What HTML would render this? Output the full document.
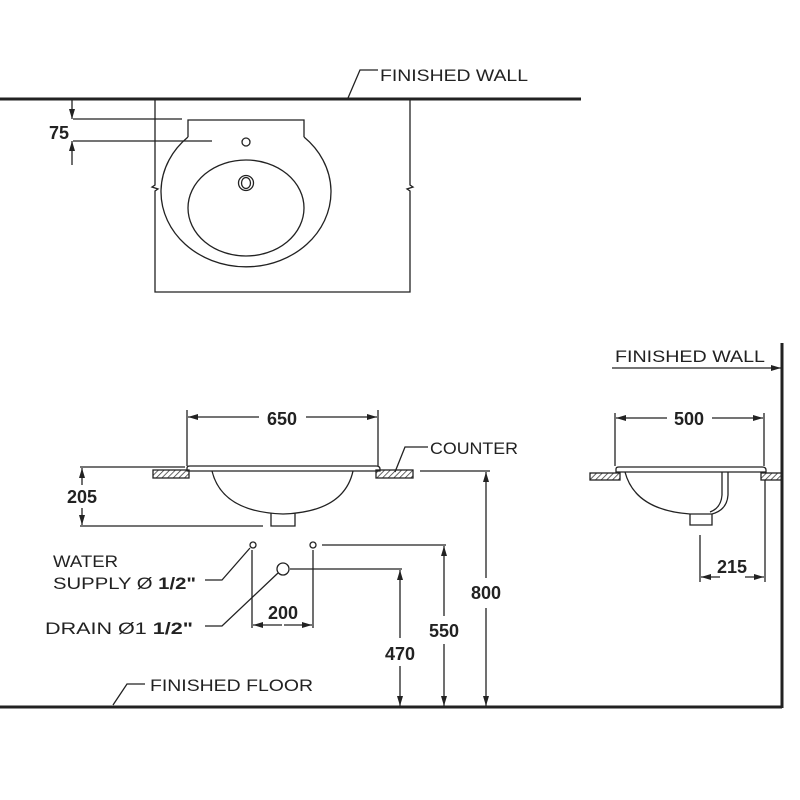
<!DOCTYPE html>
<html><head><style>body{margin:0;background:#fff}svg{display:block}</style></head><body>
<svg width="800" height="800" viewBox="0 0 800 800" xmlns="http://www.w3.org/2000/svg" font-family="Liberation Sans, sans-serif">
<defs>
<pattern id="h" width="4" height="4" patternUnits="userSpaceOnUse" patternTransform="rotate(45)"><line x1="0" y1="0" x2="0" y2="4" stroke="#333" stroke-width="1.5"/></pattern>
<marker id="a" viewBox="0 0 10 6" refX="10" refY="3" markerWidth="10" markerHeight="6" orient="auto-start-reverse" markerUnits="userSpaceOnUse"><path d="M0,0L10,3L0,6z" fill="#222"/></marker>
</defs>
<g stroke="#222" fill="none" stroke-width="1.3">
<line x1="0" y1="99" x2="581" y2="99" stroke-width="3"/>
<path d="M155,99V185l-3,2 6,2-3,2V292H410V191l-3-2 6-2-3-2V99"/>
<path d="M188,137V120H304V137"/>
<path d="M188,137A85,75 0 1 0 304,137"/>
<ellipse cx="246" cy="208" rx="58" ry="48"/>
<circle cx="246" cy="183" r="7.5"/><ellipse cx="246" cy="183" rx="4.5" ry="5.5"/>
<circle cx="246" cy="142" r="4"/>
<line x1="73" y1="119" x2="182" y2="119"/><line x1="73" y1="141" x2="212" y2="141"/>
<line x1="72" y1="99" x2="72" y2="119" marker-end="url(#a)"/>
<line x1="72" y1="165" x2="72" y2="141" marker-end="url(#a)"/>
<path d="M348,98L360,70H378"/>
<rect x="153" y="470" width="36" height="8" fill="url(#h)"/>
<rect x="376" y="470" width="37" height="8" fill="url(#h)"/>
<path d="M187,471V468Q187,466 190,466H376Q380,466 380,469V471Z"/>
<path d="M212,471Q222,512 283,514Q344,512 353,471"/>
<path d="M271,513V526H295V513"/>
<line x1="187" y1="410" x2="187" y2="466"/><line x1="378" y1="410" x2="378" y2="466"/>
<line x1="259" y1="417" x2="188" y2="417" marker-end="url(#a)"/><line x1="306" y1="417" x2="377" y2="417" marker-end="url(#a)"/>
<line x1="80" y1="467" x2="185" y2="467"/><line x1="80" y1="526" x2="263" y2="526"/>
<line x1="82" y1="485" x2="82" y2="468" marker-end="url(#a)"/><line x1="82" y1="508" x2="82" y2="525" marker-end="url(#a)"/>
<path d="M395,472L405,447H428"/>
<line x1="420" y1="471" x2="490" y2="471"/>
<line x1="486" y1="578" x2="486" y2="472" marker-end="url(#a)"/><line x1="486" y1="608" x2="486" y2="706" marker-end="url(#a)"/>
<circle cx="253" cy="545" r="3"/><circle cx="313" cy="545" r="3"/><circle cx="283" cy="569" r="6"/>
<line x1="322" y1="545" x2="446" y2="545"/>
<line x1="444" y1="616" x2="444" y2="546" marker-end="url(#a)"/><line x1="444" y1="644" x2="444" y2="706" marker-end="url(#a)"/>
<line x1="290" y1="569" x2="402" y2="569"/>
<line x1="400" y1="638" x2="400" y2="570" marker-end="url(#a)"/><line x1="400" y1="666" x2="400" y2="706" marker-end="url(#a)"/>
<line x1="252" y1="550" x2="252" y2="628"/><line x1="313" y1="550" x2="313" y2="628"/>
<line x1="282" y1="625" x2="253" y2="625" marker-end="url(#a)"/><line x1="284" y1="625" x2="312" y2="625" marker-end="url(#a)"/>
<path d="M205,580H222L250,548"/>
<path d="M205,626H222L278,573"/>
<line x1="0" y1="707" x2="782" y2="707" stroke-width="3"/>
<path d="M113,705L127,684H145"/>
<line x1="782" y1="343" x2="782" y2="708" stroke-width="3"/>
<line x1="612" y1="368" x2="781" y2="368" marker-end="url(#a)"/>
<line x1="615" y1="413" x2="615" y2="466"/><line x1="764" y1="413" x2="764" y2="466"/>
<line x1="667" y1="418" x2="616" y2="418" marker-end="url(#a)"/><line x1="712" y1="418" x2="763" y2="418" marker-end="url(#a)"/>
<rect x="590" y="473" width="30" height="7" fill="url(#h)"/>
<rect x="761" y="473" width="21" height="7" fill="url(#h)"/>
<path d="M616,472V469Q616,467 619,467H762Q766,467 766,470V472Z"/>
<path d="M625,472Q635,510 690,514H712Q727,510 728,495V472"/>
<path d="M722,472V495Q721,508 710,512"/>
<path d="M690,514V525H712V514"/>
<line x1="700" y1="535" x2="700" y2="582"/><line x1="765" y1="480" x2="765" y2="582"/>
<line x1="720" y1="577" x2="701" y2="577" marker-end="url(#a)"/><line x1="745" y1="577" x2="764" y2="577" marker-end="url(#a)"/>
</g>
<g fill="#222" font-size="17">
<text x="380" y="81" textLength="148" lengthAdjust="spacingAndGlyphs">FINISHED  WALL</text>
<text x="430" y="454" textLength="88" lengthAdjust="spacingAndGlyphs">COUNTER</text>
<text x="53" y="567" textLength="65" lengthAdjust="spacingAndGlyphs">WATER</text>
<text x="53" y="589" textLength="143" lengthAdjust="spacingAndGlyphs">SUPPLY Ø <tspan font-weight="bold">1/2"</tspan></text>
<text x="45" y="634" textLength="148" lengthAdjust="spacingAndGlyphs">DRAIN Ø1 <tspan font-weight="bold">1/2"</tspan></text>
<text x="150" y="691" textLength="163" lengthAdjust="spacingAndGlyphs">FINISHED  FLOOR</text>
<text x="615" y="362" textLength="150" lengthAdjust="spacingAndGlyphs">FINISHED  WALL</text>
</g>
<g fill="#222" font-size="18" font-weight="bold" text-anchor="middle">
<text x="59" y="139">75</text>
<text x="282" y="425">650</text>
<text x="82" y="503">205</text>
<text x="486" y="599">800</text>
<text x="444" y="637">550</text>
<text x="400" y="660">470</text>
<text x="283" y="619">200</text>
<text x="689" y="425">500</text>
<text x="732" y="573">215</text>
</g>
</svg>
</body></html>
